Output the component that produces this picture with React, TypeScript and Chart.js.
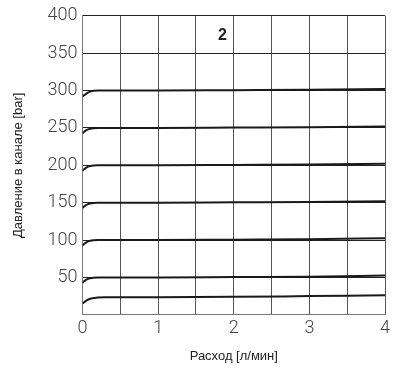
import React, { useEffect, useRef } from "react";
import { Chart, registerables } from "chart.js";

Chart.register(...registerables);

const flow = [0, 0.05, 0.1, 0.2, 0.3, 0.5, 1, 2, 3, 4];
const p300 = [292, 296, 298.5, 300, 300, 300, 300, 300.5, 301, 302];
const p250 = [243, 247, 249, 250, 250, 250, 250, 250.5, 251, 252];
const p200 = [193, 197, 199, 200, 200, 200, 200, 200.5, 201, 202];
const p150 = [143, 147, 149, 150, 150, 150, 150, 150.5, 151, 152];
const p100 = [93, 97, 99, 100, 100, 100, 100, 100.5, 101, 102.5];
const p50 = [43, 47, 49, 50, 50, 50, 50, 50.5, 51, 52.5];
const p25 = [15, 19, 21.5, 23, 23.5, 23.5, 23.5, 24, 25, 26];
const seriesList = [p300, p250, p200, p150, p100, p50, p25];
const annotationText = "2";
const annotationX = 1.85;
const annotationY = 374;
const xTitle = "Расход [л/мин]";
const yTitle = "Давление в канале [bar]";

const labelPlugin = {
  id: "labelPlugin",
  afterDatasetsDraw(chart: any) {
    const { ctx, scales } = chart;
    const px = scales.x.getPixelForValue(annotationX);
    const py = scales.y.getPixelForValue(annotationY);
    ctx.save();
    ctx.font = "bold 16px 'Liberation Sans', Arial, sans-serif";
    ctx.fillStyle = "#222";
    ctx.textAlign = "center";
    ctx.textBaseline = "middle";
    ctx.fillText(annotationText, px, py);
    ctx.restore();
  },
};

export default function App() {
  const ref = useRef<HTMLCanvasElement>(null);
  useEffect(() => {
    document.body.style.margin = "0";
    const tickFont = { family: "Roboto, 'DejaVu Sans', sans-serif", size: 18, weight: "300" as any };
    const chart = new Chart(ref.current!, {
      type: "line",
      data: {
        datasets: seriesList.map((s, i) => ({
          label: "s" + i,
          data: flow.map((x, j) => ({ x, y: s[j] })),
          borderColor: "#1a1a1a",
          borderWidth: 2,
          pointRadius: 0,
          fill: false,
          cubicInterpolationMode: "monotone" as const,
        })),
      },
      options: {
        animation: false,
        responsive: false,
        maintainAspectRatio: false,
        layout: { padding: { top: 0, right: 9, left: 11, bottom: 7 } },
        plugins: { legend: { display: false }, tooltip: { enabled: false } },
        scales: {
          x: {
            type: "linear",
            min: 0,
            max: 4,
            ticks: {
              stepSize: 0.5,
              color: "#444",
              font: tickFont,
              padding: 3,
              maxRotation: 0,
              autoSkip: false,
              callback: (v: any) => (Number.isInteger(v) ? String(v) : ""),
            },
            grid: { color: "#555", lineWidth: 1, drawTicks: false },
            border: { color: "#777", width: 1 },
            title: {
              display: true,
              text: xTitle,
              color: "#222",
              font: { family: "'Liberation Sans', Arial, sans-serif", size: 13 },
              padding: { top: 6, bottom: 0 },
            },
          },
          y: {
            type: "linear",
            min: 0,
            max: 400,
            ticks: {
              stepSize: 50,
              color: "#444",
              font: tickFont,
              padding: 5,
              callback: (v: any) => (v === 0 ? "" : String(v)),
            },
            grid: { color: "#222", lineWidth: 1, drawTicks: false },
            border: { color: "#777", width: 1 },
            title: {
              display: true,
              text: yTitle,
              color: "#222",
              font: { family: "'Liberation Sans', Arial, sans-serif", size: 13 },
              padding: { top: 0, bottom: 16 },
            },
          },
        },
      },
      plugins: [labelPlugin],
    });
    return () => chart.destroy();
  }, []);
  return <canvas ref={ref} width={394} height={371} style={{ display: "block" }} />;
}
